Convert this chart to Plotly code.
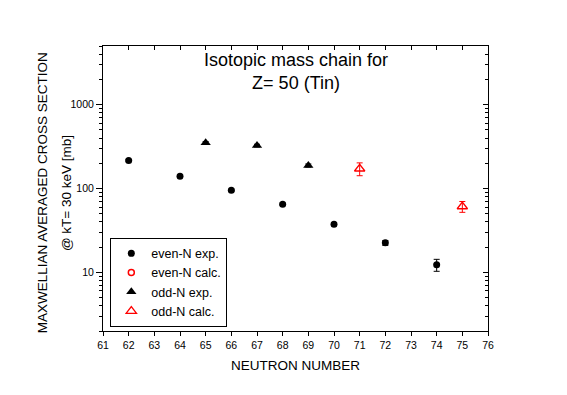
import plotly.graph_objects as go

even_n = [62, 64, 66, 68, 70, 72, 74]
even_exp = [215, 140, 95, 65, 37.5, 22.5, 12.3]
even_err = [6, 4, 3, 2, 1.5, 1.5, 2.0]

odd_n_exp = [65, 67, 69]
odd_exp = [350, 325, 188]
odd_exp_err = [12, 12, 8]

odd_n_calc = [71, 75]
odd_calc = [172, 61]
odd_calc_err = [30, 9]

title_lines = ["Isotopic mass chain for", "Z= 50 (Tin)"]
y_title_lines = ["MAXWELLIAN AVERAGED CROSS SECTION", "@ kT= 30 keV [mb]"]
x_title = "NEUTRON NUMBER"
x_ticks = list(range(61, 77))
y_ticks = [10, 100, 1000]
y_minor = [m * 10 ** e for e in range(0, 4) for m in range(2, 10)]

FONT = "Liberation Sans, Arial, sans-serif"
X_RANGE = [61, 76]
Y_RANGE = [0.301, 3.699]

fig = go.Figure()
fig.add_trace(go.Scatter(
    x=even_n, y=even_exp, mode="markers", name="even-N exp.",
    marker=dict(symbol="circle", size=7, color="black"),
    error_y=dict(type="data", array=even_err, color="black", thickness=1, width=3)))
fig.add_trace(go.Scatter(
    x=[None], y=[None], mode="markers", name="even-N calc.",
    marker=dict(symbol="circle-open", size=6, color="red", line=dict(width=1.5))))
fig.add_trace(go.Scatter(
    x=odd_n_exp, y=odd_exp, mode="markers", name="odd-N exp.",
    marker=dict(symbol="triangle-up", size=9, color="black"),
    error_y=dict(type="data", array=odd_exp_err, color="black", thickness=1, width=3)))
fig.add_trace(go.Scatter(
    x=odd_n_calc, y=odd_calc, mode="markers", name="odd-N calc.",
    marker=dict(symbol="triangle-up-open", size=9, color="red", line=dict(width=1.3)),
    error_y=dict(type="data", array=odd_calc_err, color="red", thickness=1, width=3)))
# invisible trace so the top/right mirror axes get drawn
fig.add_trace(go.Scatter(
    x=even_n, y=even_exp, xaxis="x2", yaxis="y2", mode="markers",
    marker=dict(opacity=0), showlegend=False, hoverinfo="skip"))

fig.add_annotation(
    x=0.5, y=0.993, xref="paper", yref="paper", xanchor="center", yanchor="top",
    text="<br>".join(title_lines), showarrow=False,
    font=dict(family=FONT, size=18, color="black"))

for xpos, line in zip([-0.158, -0.096], y_title_lines):
    fig.add_annotation(
        x=xpos, y=0.484, xref="paper", yref="paper", xanchor="center", yanchor="middle",
        text=line, textangle=-90, showarrow=False,
        font=dict(family=FONT, size=13.5, color="black"))

fig.update_layout(
    xaxis=dict(
        range=X_RANGE, tickmode="array", tickvals=x_ticks,
        ticktext=[str(v) for v in x_ticks], automargin=False,
        ticks="outside", ticklen=4, tickcolor="black", showgrid=False, zeroline=False,
        showline=True, linecolor="black", linewidth=1,
        tickfont=dict(family=FONT, size=10.5, color="black"),
        title=dict(text=x_title, font=dict(family=FONT, size=13.5, color="black"),
                   standoff=10)),
    xaxis2=dict(
        range=X_RANGE, overlaying="x", side="top", anchor="y", tickmode="array",
        tickvals=x_ticks, showticklabels=False, automargin=False,
        ticks="inside", ticklen=4, tickcolor="black", showgrid=False, zeroline=False,
        showline=True, linecolor="black", linewidth=1),
    yaxis=dict(
        type="log", range=Y_RANGE, tickmode="array", tickvals=y_ticks,
        ticktext=[str(v) for v in y_ticks], automargin=False,
        ticks="outside", ticklen=6, tickcolor="black", showgrid=False, zeroline=False,
        showline=True, linecolor="black", linewidth=1,
        minor=dict(ticks="outside", ticklen=3, tickcolor="black", tickvals=y_minor),
        tickfont=dict(family=FONT, size=10.5, color="black")),
    yaxis2=dict(
        type="log", range=Y_RANGE, overlaying="y", side="right", anchor="x",
        tickmode="array", tickvals=y_ticks, showticklabels=False, automargin=False,
        ticks="inside", ticklen=5, tickcolor="black", showgrid=False, zeroline=False,
        showline=True, linecolor="black", linewidth=1,
        minor=dict(ticks="inside", ticklen=3, tickcolor="black", tickvals=y_minor)),
    width=567, height=395,
    margin=dict(l=95, r=87, t=38, b=72),
    paper_bgcolor="white", plot_bgcolor="white",
    showlegend=True,
    legend=dict(x=0.019, y=0.015, xanchor="left", yanchor="bottom",
                bordercolor="black", borderwidth=1, bgcolor="white",
                font=dict(family=FONT, size=12.5, color="black"),
                itemsizing="trace", tracegroupgap=0, itemwidth=30,
                entrywidth=122, entrywidthmode="pixels"),
)

fig.write_html("out.html")
